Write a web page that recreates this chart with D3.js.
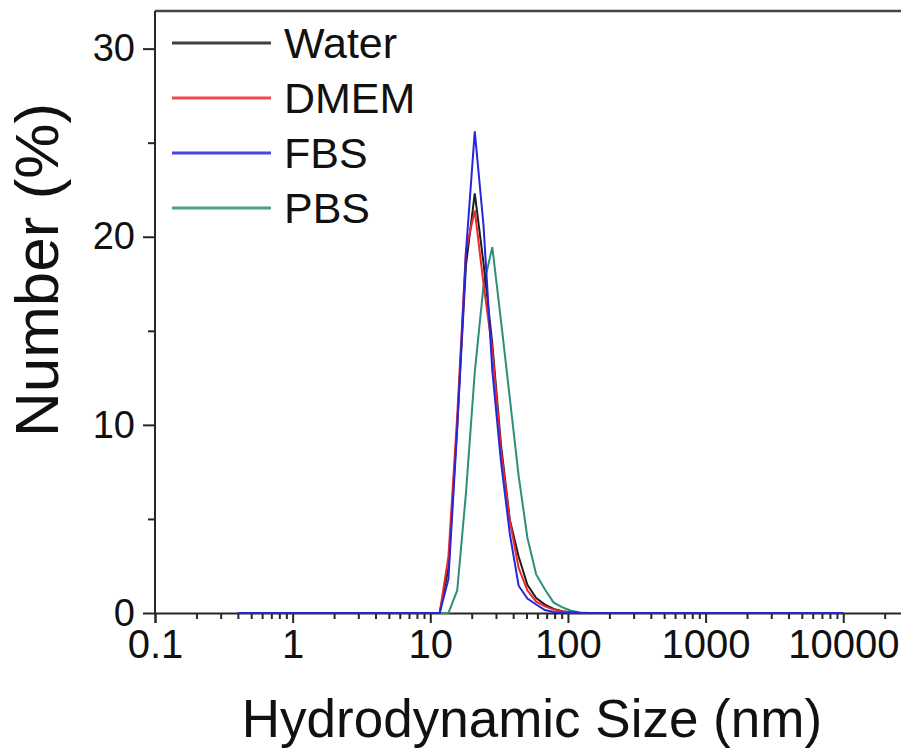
<!DOCTYPE html>
<html>
<head>
<meta charset="utf-8">
<script src="https://cdn.jsdelivr.net/npm/d3@7"></script>
<style>
  body { margin: 0; background: #fff; }
  svg { display: block; }
  text { font-family: "Liberation Sans", Arial, sans-serif; fill: #111; }
</style>
</head>
<body>
<svg id="chart" width="901" height="752"></svg>
<script>
// Hydrodynamic size bins (nm)
const sizes = [0.4, 0.4632, 0.5365, 0.6213, 0.7195, 0.8332, 0.9649, 1.117, 1.294, 1.499,
  1.736, 2.01, 2.328, 2.696, 3.122, 3.615, 4.187, 4.849, 5.615, 6.503,
  7.531, 8.721, 10.1, 11.7, 13.54, 15.69, 18.17, 21.04, 24.36, 28.21,
  32.67, 37.84, 43.82, 50.75, 58.77, 68.06, 78.82, 91.28, 105.7, 122.4,
  141.8, 164.2, 190.1, 220.2, 255.0, 295.3, 342.0, 396.1, 458.7, 531.2,
  615.1, 712.4, 825.0, 955.4, 1106, 1281, 1484, 1718, 1990, 2305,
  2669, 3091, 3580, 4145, 4801, 5560, 6439, 7456, 8635, 10000];

// Number distribution (%) in each medium
const water = [0, 0, 0, 0, 0, 0, 0, 0, 0, 0,
  0, 0, 0, 0, 0, 0, 0, 0, 0, 0,
  0, 0, 0, 0, 2.4, 10.0, 18.5, 22.3, 18.6, 14.3,
  8.9, 4.95, 3.0, 1.5, 0.8, 0.45, 0.22, 0.1, 0.04, 0,
  0, 0, 0, 0, 0, 0, 0, 0, 0, 0,
  0, 0, 0, 0, 0, 0, 0, 0, 0, 0,
  0, 0, 0, 0, 0, 0, 0, 0, 0, 0];
const dmem = [0, 0, 0, 0, 0, 0, 0, 0, 0, 0,
  0, 0, 0, 0, 0, 0, 0, 0, 0, 0,
  0, 0, 0, 0, 3.0, 10.5, 19.3, 21.4, 17.5, 14.0,
  8.6, 4.9, 2.4, 1.2, 0.6, 0.35, 0.18, 0.08, 0.03, 0,
  0, 0, 0, 0, 0, 0, 0, 0, 0, 0,
  0, 0, 0, 0, 0, 0, 0, 0, 0, 0,
  0, 0, 0, 0, 0, 0, 0, 0, 0, 0];
const fbs = [0, 0, 0, 0, 0, 0, 0, 0, 0, 0,
  0, 0, 0, 0, 0, 0, 0, 0, 0, 0,
  0, 0, 0, 0, 1.8, 9.8, 19.2, 25.6, 20.6, 12.9,
  8.0, 4.2, 1.45, 0.77, 0.45, 0.16, 0.05, 0.02, 0, 0,
  0, 0, 0, 0, 0, 0, 0, 0, 0, 0,
  0, 0, 0, 0, 0, 0, 0, 0, 0, 0,
  0, 0, 0, 0, 0, 0, 0, 0, 0, 0];
const pbs = [0, 0, 0, 0, 0, 0, 0, 0, 0, 0,
  0, 0, 0, 0, 0, 0, 0, 0, 0, 0,
  0, 0, 0, 0, 0, 1.2, 6.4, 12.8, 17.4, 19.45,
  15.5, 11.4, 7.3, 4.0, 2.05, 1.25, 0.55, 0.3, 0.12, 0.03,
  0, 0, 0, 0, 0, 0, 0, 0, 0, 0,
  0, 0, 0, 0, 0, 0, 0, 0, 0, 0,
  0, 0, 0, 0, 0, 0, 0, 0, 0, 0];

const seriesNames = ["Water", "DMEM", "FBS", "PBS"];
const seriesValues = [water, dmem, fbs, pbs];
const seriesColors = ["#1e1e1e", "#ec2a2a", "#2626e0", "#2c8f7c"];
const drawOrder = [3, 0, 1, 2];

const xTickValues = [0.1, 1, 10, 100, 1000, 10000];
const xTickLabels = ["0.1", "1", "10", "100", "1000", "10000"];
const yTickValues = [0, 10, 20, 30];
const yMinorValues = [5, 15, 25];
const xTitle = "Hydrodynamic Size (nm)";
const yTitle = "Number (%)";

const svg = d3.select("#chart");
const plotLeft = 155, plotTop = 11, plotBottom = 613;
const decade = 137.65;

const x = d3.scaleLog()
  .domain([0.1, 30000])
  .range([plotLeft, plotLeft + decade * Math.log10(300000)]);
const y = d3.scaleLinear().domain([0, 32]).range([plotBottom, plotTop]);

// minor x ticks: 2..9 in every decade inside the domain
const xMinor = [];
for (let e = -1; e <= 4; e++) {
  for (let m = 2; m <= 9; m++) {
    const v = m * Math.pow(10, e);
    if (v <= 30000) xMinor.push(v);
  }
}

const axisColor = "#262626";

// frame: top border
svg.append("line")
  .attr("x1", plotLeft).attr("x2", 911)
  .attr("y1", plotTop).attr("y2", plotTop)
  .attr("stroke", "#444").attr("stroke-width", 2.5);

// x axis
const xAxis = d3.axisBottom(x)
  .tickValues(xTickValues)
  .tickFormat((d, i) => xTickLabels[i])
  .tickSize(10)
  .tickPadding(7);
const gx = svg.append("g").attr("transform", `translate(0,${plotBottom})`).call(xAxis);
gx.select(".domain").attr("stroke", axisColor).attr("stroke-width", 2);
gx.selectAll(".tick line").attr("stroke", axisColor).attr("stroke-width", 2);
gx.selectAll(".tick text").attr("font-size", 40).attr("fill", "#111")
  .attr("font-family", "'Liberation Sans', Arial, sans-serif");

const gxMinor = svg.append("g").attr("transform", `translate(0,${plotBottom})`)
  .call(d3.axisBottom(x).tickValues(xMinor).tickFormat("").tickSize(6));
gxMinor.select(".domain").remove();
gxMinor.selectAll(".tick line").attr("stroke", axisColor).attr("stroke-width", 2);

// y axis
const yAxis = d3.axisLeft(y)
  .tickValues(yTickValues)
  .tickSize(12)
  .tickPadding(8);
const gy = svg.append("g").attr("transform", `translate(${plotLeft},0)`).call(yAxis);
gy.select(".domain").attr("stroke", axisColor).attr("stroke-width", 2)
  .attr("d", `M0,${plotTop}V${plotBottom}`);
gy.selectAll(".tick line").attr("stroke", axisColor).attr("stroke-width", 2);
gy.selectAll(".tick text").attr("font-size", 38).attr("fill", "#111")
  .attr("font-family", "'Liberation Sans', Arial, sans-serif");

const gyMinor = svg.append("g").attr("transform", `translate(${plotLeft},0)`)
  .call(d3.axisLeft(y).tickValues(yMinorValues).tickFormat("").tickSize(7));
gyMinor.select(".domain").remove();
gyMinor.selectAll(".tick line").attr("stroke", axisColor).attr("stroke-width", 2);

// axis titles
svg.append("text")
  .attr("x", (plotLeft + x.range()[1]) / 2)
  .attr("y", 737)
  .attr("text-anchor", "middle")
  .attr("font-size", 53)
  .text(xTitle);

svg.append("text")
  .attr("transform", `translate(58,270) rotate(-90)`)
  .attr("text-anchor", "middle")
  .attr("font-size", 62)
  .text(yTitle);

// distribution curves
const line = d3.line()
  .x(d => x(d[0]))
  .y(d => y(d[1]));

drawOrder.forEach(i => {
  const pts = sizes.map((s, k) => [s, seriesValues[i][k]]);
  svg.append("path")
    .datum(pts)
    .attr("fill", "none")
    .attr("stroke", seriesColors[i])
    .attr("stroke-width", 2)
    .attr("stroke-linejoin", "miter")
    .attr("d", line);
});

// legend
const legend = svg.append("g");
seriesNames.forEach((name, i) => {
  const ly = 43 + i * 55;
  legend.append("line")
    .attr("x1", 172).attr("x2", 271)
    .attr("y1", ly).attr("y2", ly)
    .attr("stroke", seriesColors[i])
    .attr("stroke-opacity", 0.85)
    .attr("stroke-width", 3);
  legend.append("text")
    .attr("x", 284).attr("y", ly)
    .attr("dy", "0.36em")
    .attr("font-size", 43)
    .text(name);
});
</script>
</body>
</html>
